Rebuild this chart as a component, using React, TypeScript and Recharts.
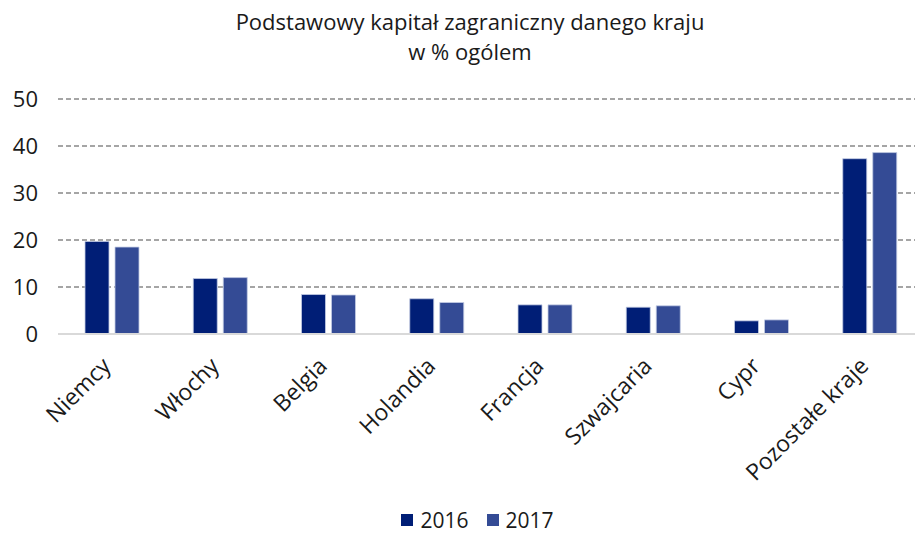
import React from "react"
import { BarChart, Bar, XAxis, YAxis, CartesianGrid, Legend } from "recharts"

const countries = [
  "Niemcy",
  "Włochy",
  "Belgia",
  "Holandia",
  "Francja",
  "Szwajcaria",
  "Cypr",
  "Pozostałe kraje",
]
const values2016 = [19.7, 11.8, 8.4, 7.5, 6.2, 5.7, 2.8, 37.3]
const values2017 = [18.5, 12.0, 8.3, 6.7, 6.2, 6.0, 3.0, 38.6]
const yTicks = [0, 10, 20, 30, 40, 50]
const titleLines = ["Podstawowy kapitał zagraniczny danego kraju", "w % ogólem"]

const FONT = "'Open Sans', 'Noto Sans', sans-serif"
const COLORS = { "2016": "#001E76", "2017": "#344B95" }

const data = countries.map((name, i) => ({
  name,
  "2016": values2016[i],
  "2017": values2017[i],
}))

function CountryTick({ x, y, payload }: { x?: number; y?: number; payload?: { value: string } }) {
  return (
    <g transform={`translate(${x},${y})`}>
      <text
        x={0}
        y={0}
        dx={-18}
        dy={18}
        textAnchor="end"
        transform="rotate(-45)"
        fontSize={23}
        fill="#1a1a1a"
        fontFamily={FONT}
      >
        {payload?.value}
      </text>
    </g>
  )
}

function YearLegend({ payload }: { payload?: Array<{ value?: string; color?: string }> }) {
  return (
    <div style={{ display: "flex", justifyContent: "center", gap: 18, fontFamily: FONT, fontSize: 21, color: "#1a1a1a" }}>
      {(payload ?? []).map((p) => (
        <div key={p.value} style={{ display: "flex", alignItems: "center", gap: 7 }}>
          <span style={{ width: 12, height: 12, background: p.color, display: "inline-block" }} />
          <span>{p.value}</span>
        </div>
      ))}
    </div>
  )
}

export default function App() {
  return (
    <div style={{ position: "absolute", left: 0, top: 0, width: 915, height: 534, background: "#fff", overflow: "hidden" }}>
      {titleLines.map((line, i) => (
        <div
          key={line}
          style={{
            position: "absolute",
            left: 0,
            top: 6 + i * 30,
            width: 940,
            textAlign: "center",
            fontFamily: FONT,
            fontSize: 22,
            lineHeight: "30px",
            color: "#1a1a1a",
          }}
        >
          {line}
        </div>
      ))}
      <BarChart
        width={926}
        height={534}
        data={data}
        margin={{ top: 99, right: 2, bottom: 0, left: 8 }}
        barSize={24}
        barGap={6}
      >
        <CartesianGrid vertical={false} stroke="#888" strokeDasharray="5 3" strokeWidth={1.5} />
        <XAxis
          dataKey="name"
          interval={0}
          height={172}
          tickLine={false}
          axisLine={{ stroke: "#d9d9d9", strokeWidth: 2 }}
          tick={<CountryTick />}
        />
        <YAxis
          width={50}
          domain={[0, 50]}
          ticks={yTicks}
          axisLine={false}
          tickLine={false}
          tick={{ fontSize: 22, fill: "#1a1a1a", fontFamily: FONT }}
          tickMargin={14}
        />
        <Legend verticalAlign="bottom" content={<YearLegend />} wrapperStyle={{ left: 0, width: 955, bottom: 0 }} />
        <Bar dataKey="2016" fill={COLORS["2016"]} stroke="#c3cbe3" strokeWidth={0.8} isAnimationActive={false} />
        <Bar dataKey="2017" fill={COLORS["2017"]} stroke="#c3cbe3" strokeWidth={0.8} isAnimationActive={false} />
      </BarChart>
    </div>
  )
}
